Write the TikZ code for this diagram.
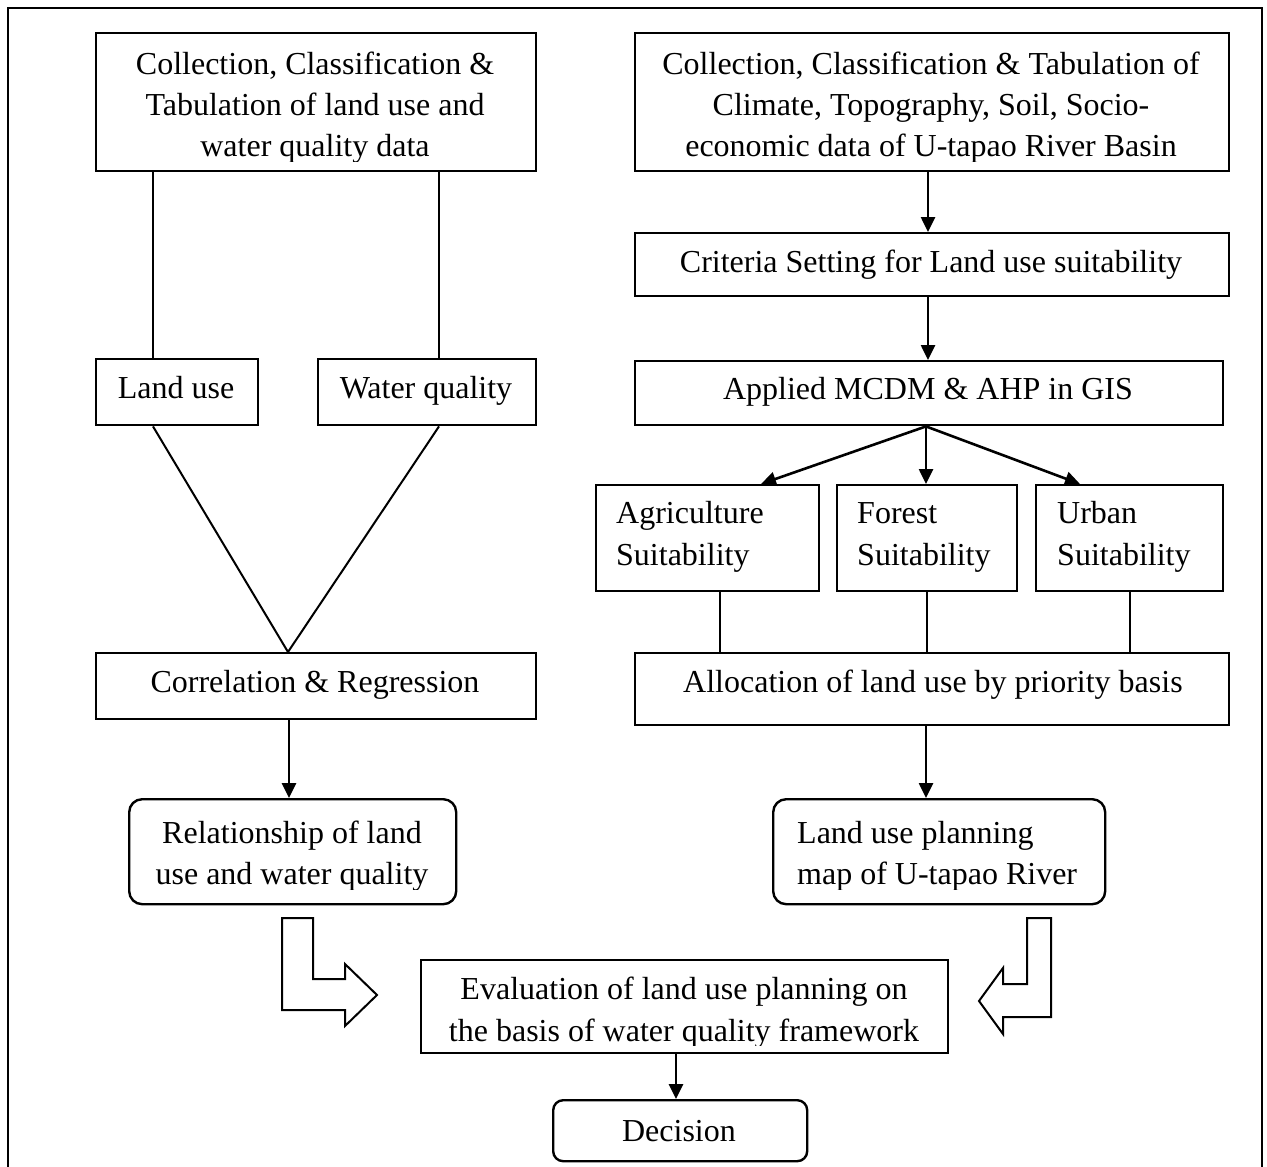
\documentclass[tikz,border=0pt]{standalone}
\usepackage{fontspec}
\setmainfont{Liberation Serif}
\usetikzlibrary{arrows.meta,calc}
\begin{document}
\begin{tikzpicture}[x=1pt,y=-1pt,
  box/.style={draw, line width=2.4pt, inner sep=0pt, anchor=north west},
  rbox/.style={box, rounded corners=13pt},
  txt/.style={inner sep=0pt, anchor=base, font=\fontsize{32}{40}\selectfont},
  txtl/.style={txt, anchor=base west},
  conn/.style={line width=2pt},
  arr/.style={line width=2.6pt, -{Triangle[length=15pt,width=14pt]}},
  blockarrow/.style={draw, line width=2pt, fill=white, line join=miter}
]
\useasboundingbox (0,0) rectangle (1267,1167);

% outer frame (open at the bottom)
\draw[line width=2pt] (8,1167) -- (8,8) -- (1262,8) -- (1262,1167);

% ---------------- boxes ----------------
\node[box, minimum width=440, minimum height=138] (tl) at (95,32) {};
\node[box, minimum width=594, minimum height=138] (tr) at (634,32) {};
\node[box, minimum width=594, minimum height=63]  (crit) at (634,232) {};
\node[box, minimum width=588, minimum height=64]  (mcdm) at (634,360) {};
\node[box, minimum width=162, minimum height=66]  (lu) at (95,358) {};
\node[box, minimum width=218, minimum height=66]  (wq) at (317,358) {};
\node[box, minimum width=223, minimum height=106] (agri) at (595,484) {};
\node[box, minimum width=180, minimum height=106] (forest) at (836,484) {};
\node[box, minimum width=187, minimum height=106] (urban) at (1035,484) {};
\node[box, minimum width=440, minimum height=66]  (corr) at (95,652) {};
\node[box, minimum width=594, minimum height=72]  (alloc) at (634,652) {};
\node[rbox, minimum width=327, minimum height=105] (rel) at (128,798) {};
\node[rbox, minimum width=332, minimum height=105] (lup) at (772,798) {};
\node[box, minimum width=527, minimum height=93]  (eval) at (420,959) {};
\node[box, rounded corners=10pt, minimum width=254, minimum height=61] (dec) at (552,1099) {};

% ---------------- texts ----------------
\begin{scope}
  \clip (tl.north west) rectangle ($(tl.south east)+(0,-11)$);
  \node[txt] (tl1) at (315,74)  {Collection, Classification \&};
  \node[txt] (tl2) at (315,115) {Tabulation of land use and};
  \node[txt] (tl3) at (315,156) {water quality data};
\end{scope}
\begin{scope}
  \clip (tr.north west) rectangle ($(tr.south east)+(0,-11)$);
  \node[txt] (tr1) at (931,74)  {Collection, Classification \& Tabulation of};
  \node[txt] (tr2) at (931,115) {Climate, Topography, Soil, Socio-};
  \node[txt] (tr3) at (931,156) {economic data of U-tapao River Basin};
\end{scope}
\node[txt] (crit1) at (931,272) {Criteria Setting for Land use suitability};
\node[txt] (mcdm1) at (928,399) {Applied MCDM \& AHP in GIS};
\node[txt] (lu1) at (176,398) {Land use};
\node[txt] (wq1) at (426,398) {Water quality};
\node[txtl] (agri1) at (616,523) {Agriculture};
\node[txtl] (agri2) at (616,565) {Suitability};
\node[txtl] (forest1) at (857,523) {Forest};
\node[txtl] (forest2) at (857,565) {Suitability};
\node[txtl] (urban1) at (1057,523) {Urban};
\node[txtl] (urban2) at (1057,565) {Suitability};
\node[txt] (corr1) at (315,692) {Correlation \& Regression};
\node[txtl] (alloc1) at (683,692) {Allocation of land use by priority basis};
\begin{scope}
  \clip (rel.north west) rectangle ($(rel.south east)+(0,-16)$);
  \node[txt] (rel1) at (292,843) {Relationship of land};
  \node[txt] (rel2) at (292,884) {use and water quality};
\end{scope}
\begin{scope}
  \clip (lup.north west) rectangle ($(lup.south east)+(0,-16)$);
  \node[txtl] (lup1) at (797,843) {Land use planning};
  \node[txtl] (lup2) at (797,884) {map of U-tapao River};
\end{scope}
\begin{scope}
  \clip (eval.north west) rectangle ($(eval.south east)+(0,-9)$);
  \node[txt] (eval1) at (684,999)  {Evaluation of land use planning on};
  \node[txt] (eval2) at (684,1041) {the basis of water quality framework};
\end{scope}
\node[txt] (dec1) at (679,1141) {Decision};

% ---------------- connector columns ----------------
\coordinate (luX) at (153,0);
\coordinate (wqX) at (439,0);
\coordinate (vX) at (288,0);
\coordinate (relX) at (289,0);
\coordinate (rX) at (928,0);
\coordinate (fX) at (926,0);
\coordinate (agX) at (720,0);
\coordinate (agT) at (761,0);
\coordinate (urT) at (1080,0);
\coordinate (eX) at (676,0);

% left branch
\draw[conn] (tl.south -| luX) -- (lu.north -| luX);
\draw[conn] (tl.south -| wqX) -- (wq.north -| wqX);
\draw[conn] (lu.south -| luX) -- (corr.north -| vX);
\draw[conn] (wq.south -| wqX) -- (corr.north -| vX);
\draw[arr] (corr.south -| relX) -- (rel.north -| relX);

% right branch
\draw[arr] (tr.south -| rX) -- (crit.north -| rX);
\draw[arr] (crit.south -| rX) -- (mcdm.north -| rX);
\draw[arr] (mcdm.south -| fX) -- (agri.north -| agT);
\draw[arr] (mcdm.south -| fX) -- (forest.north -| fX);
\draw[arr] (mcdm.south -| fX) -- (urban.north -| urT);
\draw[conn] (agri.south -| agX) -- (alloc.north -| agX);
\draw[conn] (forest.south) -- (alloc.north -| forest.south);
\draw[conn] (urban.south) -- (alloc.north -| urban.south);
\draw[arr] (alloc.south -| fX) -- (lup.north -| fX);

% final step
\draw[arr] (eval.south -| eX) -- (dec.north -| eX);

% bent block arrows pointing into the evaluation box
\draw[blockarrow] (282,918) -- (313,918) -- (313,979) -- (345,979) -- (345,964)
  -- (377,995) -- (345,1026) -- (345,1010) -- (282,1010) -- cycle;
\draw[blockarrow] (1027,918) -- (1051,918) -- (1051,1017) -- (1003,1017) -- (1003,1034)
  -- (979,1001) -- (1003,968) -- (1003,984) -- (1027,984) -- cycle;
\end{tikzpicture}
\end{document}
